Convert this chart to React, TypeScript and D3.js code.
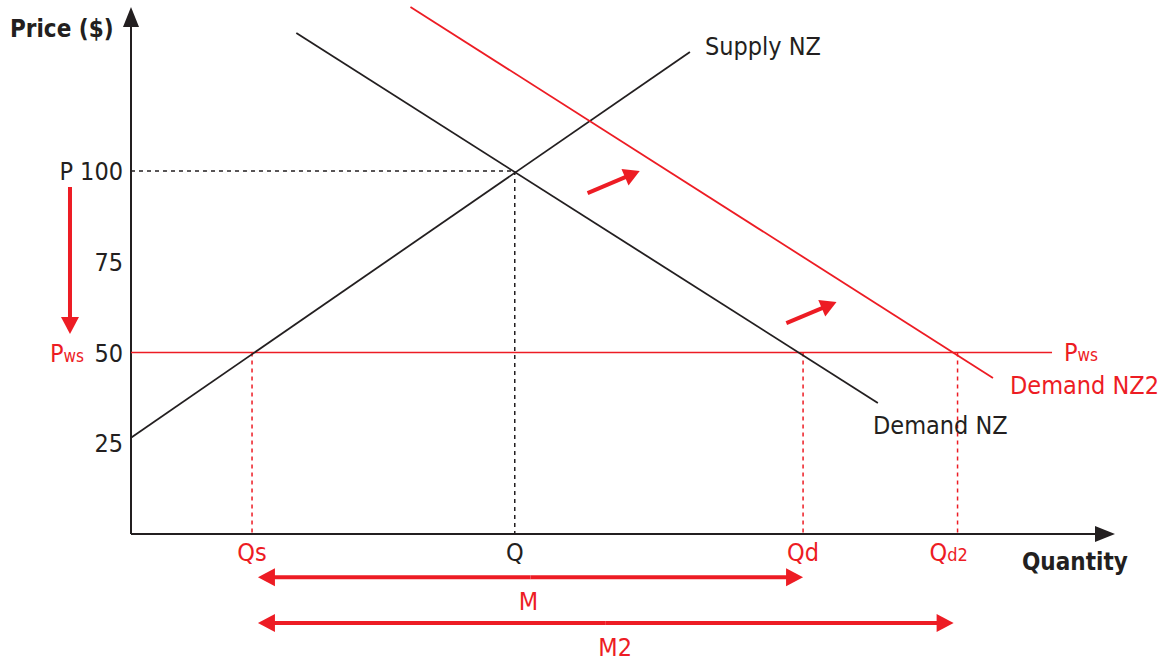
import * as d3 from "d3";

// axis values
const priceTicks = [25, 50, 75, 100];
const priceTickLabels = ["25", "50", "75", "P 100"];
const qLabels = ["Qs", "Q", "Qd", "Qd2"];
const qValues = [12.3, 39, 68.3, 84];

// curves: [quantity, price]
const supplyNZ: [number, number][] = [[0, 26.5], [56.8, 132.8]];
const demandNZ: [number, number][] = [[16.8, 138], [75.9, 36.1]];
const demandNZ2: [number, number][] = [[28.4, 145.2], [87.6, 43]];
const worldPrice = 50;
const worldPriceEnd = 93.6;
const eqPrice = 100;

// shift arrows: [q1, p1, q2, p2]
const shiftArrows = [
  [46.4, 93.9, 51.7, 100],
  [66.6, 58.1, 71.7, 63.9],
];
const priceDrop = [-6.2, 95.6, -6.2, 55.1];
// import bars (drawn below the axis): [qFrom, qTo, p]
const importArrows = [
  [12.9, 68.3, -11.9],
  [12.9, 83.6, -24.5],
];
const importLabels = ["M", "M2"];
const importLabelQ = [40.4, 49.2];

const W = 1158;
const H = 663;
const RED = "#ed1c24";
const INK = "#231f20";
const FONT = "'DejaVu Sans Condensed', 'Open Sans', sans-serif";

const x = d3.scaleLinear().domain([0, 100]).range([131, 1115]);
const y = d3.scaleLinear().domain([0, 100]).range([534, 171]);

const line = d3.line<[number, number]>().x(d => x(d[0])).y(d => y(d[1]));

function Arrow({ x1, y1, x2, y2, color = RED, w = 4, head = 17, half = 9 }: any) {
  const dx = x2 - x1, dy = y2 - y1;
  const len = Math.hypot(dx, dy);
  const ux = dx / len, uy = dy / len;
  const bx = x2 - ux * head, by = y2 - uy * head;
  const pts = [
    [x2, y2],
    [bx - uy * half, by + ux * half],
    [bx + uy * half, by - ux * half],
  ];
  return (
    <g>
      <line x1={x1} y1={y1} x2={bx + ux} y2={by + uy} stroke={color} strokeWidth={w} />
      <polygon points={pts.map(p => p.join(",")).join(" ")} fill={color} />
    </g>
  );
}

export default function App() {
  const yPw = y(worldPrice);
  return (
    <svg width={W} height={H} viewBox={`0 0 ${W} ${H}`}
      style={{ position: "absolute", left: 0, top: 0, background: "#fff", fontFamily: FONT }}>
      {/* axes */}
      <Arrow x1={x(0)} y1={y(0)} x2={x(0)} y2={7} color={INK} w={2} head={20} half={8} />
      <Arrow x1={x(0)} y1={y(0)} x2={1115} y2={y(0)} color={INK} w={2} head={20} half={8} />
      <text x={10} y={37} fontSize={24} fontWeight="bold" fill={INK}>Price ($)</text>
      <text x={1022} y={570} fontSize={24} fontWeight="bold" fill={INK}>Quantity</text>

      {/* price ticks */}
      {priceTicks.map((p, i) => (
        <text key={p} x={123} y={y(p) + 9} fontSize={25} textAnchor="end" fill={INK}>
          {priceTickLabels[i]}
        </text>
      ))}

      {/* guide lines */}
      <line x1={x(0)} y1={y(eqPrice)} x2={x(qValues[1])} y2={y(eqPrice)}
        stroke={INK} strokeWidth={1.5} strokeDasharray="4,4" />
      <line x1={x(qValues[1])} y1={y(eqPrice)} x2={x(qValues[1])} y2={y(0)}
        stroke={INK} strokeWidth={1.5} strokeDasharray="4,4" />
      {[0, 2, 3].map(i => (
        <line key={i} x1={x(qValues[i])} y1={yPw} x2={x(qValues[i])} y2={y(0)}
          stroke={RED} strokeWidth={1.5} strokeDasharray="4,4" />
      ))}

      {/* world price */}
      <line x1={x(0)} y1={yPw} x2={x(worldPriceEnd)} y2={yPw} stroke={RED} strokeWidth={1.6} />

      {/* curves */}
      <path d={line(supplyNZ) || ""} fill="none" stroke={INK} strokeWidth={1.8} />
      <path d={line(demandNZ) || ""} fill="none" stroke={INK} strokeWidth={1.8} />
      <path d={line(demandNZ2) || ""} fill="none" stroke={RED} strokeWidth={1.8} />

      <text x={705} y={55} fontSize={25} fill={INK}>Supply NZ</text>
      <text x={873} y={434} fontSize={25} fill={INK}>Demand NZ</text>
      <text x={1010} y={394} fontSize={25} fill={RED}>Demand NZ2</text>

      {/* Pws labels */}
      <text x={50} y={yPw + 9} fontSize={25} fill={RED}>P<tspan fontSize={17}>ws</tspan></text>
      <text x={1064} y={yPw + 8} fontSize={25} fill={RED}>P<tspan fontSize={17}>ws</tspan></text>

      {/* quantity labels */}
      {qLabels.map((lab, i) => {
        const fill = i === 1 ? INK : RED;
        if (lab.length > 2) {
          // Q with small subscript, left-aligned just before the guide line
          return (
            <text key={lab} x={x(qValues[i]) - 28} y={561} fontSize={25} fill={fill}>
              {lab[0]}<tspan fontSize={18}>{lab.slice(1)}</tspan>
            </text>
          );
        }
        return (
          <text key={lab} x={x(qValues[i])} y={561} fontSize={25} textAnchor="middle" fill={fill}>
            {lab}
          </text>
        );
      })}

      {/* shift arrows */}
      {shiftArrows.map((a, i) => (
        <Arrow key={i} x1={x(a[0])} y1={y(a[1])} x2={x(a[2])} y2={y(a[3])} head={16} half={9} />
      ))}
      <Arrow x1={x(priceDrop[0])} y1={y(priceDrop[1])} x2={x(priceDrop[2])} y2={y(priceDrop[3])} />

      {/* imports */}
      {importArrows.map((a, i) => (
        <g key={i}>
          <Arrow x1={(x(a[0]) + x(a[1])) / 2} y1={y(a[2])} x2={x(a[0])} y2={y(a[2])} />
          <Arrow x1={(x(a[0]) + x(a[1])) / 2} y1={y(a[2])} x2={x(a[1])} y2={y(a[2])} />
          <text x={x(importLabelQ[i])} y={y(a[2]) + 33} fontSize={25} textAnchor="middle" fill={RED}>
            {importLabels[i]}
          </text>
        </g>
      ))}
    </svg>
  );
}
